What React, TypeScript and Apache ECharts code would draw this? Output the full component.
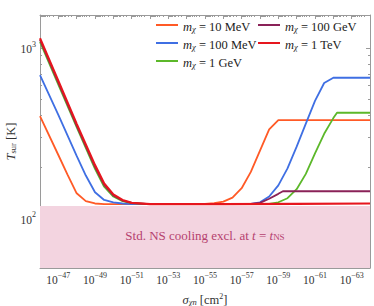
import React, { useEffect, useRef } from "react";
import * as echarts from "echarts";

// ---- Data: log10(sigma_chi n / cm^2) exponents and surface temperatures (K) ----
const sig10MeV = [-46, -47, -47.5, -48, -48.5, -49, -49.5, -52, -55, -55.5, -56, -56.5, -57, -57.5, -58, -58.5, -59, -64];
const T10MeV = [398, 235, 180, 140, 126, 122, 121, 121, 121.5, 122.5, 125, 132, 150, 187, 249, 332, 377, 377];

const sig100MeV = [-46, -47, -48, -48.5, -49, -49.5, -50, -50.5, -51, -55, -57.5, -58, -58.5, -59, -59.5, -60, -60.5, -61, -61.5, -62, -64];
const T100MeV = [693, 404, 232, 178, 142, 128, 124, 122, 121, 121, 121.5, 124, 134, 156, 196, 263, 359, 489, 622, 668, 668];

const sig1GeV = [-46, -47, -48, -49, -49.5, -50, -50.5, -51, -52, -56, -58.5, -59, -59.5, -60, -60.5, -61, -61.5, -62, -62.2, -64];
const T1GeV = [1085, 608, 342, 195, 153, 134, 126, 122.5, 121, 121, 121.5, 124, 131, 148, 182, 240, 313, 387, 416, 416];

const sig100GeV = [-46, -47, -48, -49, -49.5, -50, -50.5, -51, -52, -56, -57.5, -58, -58.5, -59, -59.25, -64];
const T100GeV = [1115, 625, 350, 200, 157, 136, 127, 123, 121, 121, 121.5, 123, 130, 139, 144, 144];

const sig1TeV = [-46, -47, -48, -49, -49.5, -50, -50.5, -51, -52, -56, -60, -64];
const T1TeV = [1140, 640, 358, 205, 160, 138, 128, 123, 121, 121, 121.5, 122];

const massLabels = ["10 MeV", "100 MeV", "1 GeV", "100 GeV", "1 TeV"];
const massColors = ["#ff5a26", "#3f6fe3", "#5cb82a", "#8a2258", "#e6161e"];

const xExtent = [-64, -46];
const yExtentK = [51, 1560];
const exclusionTopK = 118;

const xLabelExps = [-47, -49, -51, -53, -55, -57, -59, -61, -63];
const yLabelExps = [2, 3];

const SERIF = "'Liberation Serif', 'DejaVu Serif', serif";

export default function App() {
  const ref = useRef<HTMLDivElement>(null);

  useEffect(() => {
    if (!ref.current) return;
    const chart = echarts.init(ref.current, undefined, { renderer: "svg" });

    const lg = Math.log10;
    const yMin = lg(yExtentK[0]);
    const yMax = lg(yExtentK[1]);

    // tick positions (log decades + log minor ticks)
    const xMajor: number[] = [];
    const xMinor: number[] = [];
    for (let n = xExtent[0]; n <= xExtent[1]; n++) {
      xMajor.push(n);
      if (n < xExtent[1]) for (let k = 2; k <= 9; k++) xMinor.push(n + lg(k));
    }
    const yMajor: number[] = [];
    const yMinor: number[] = [];
    for (let n = 1; n <= 3; n++) {
      const p = Math.pow(10, n);
      if (lg(p) >= yMin && lg(p) <= yMax) yMajor.push(n);
      for (let k = 2; k <= 9; k++) {
        const v = lg(k * p);
        if (v > yMin && v < yMax) yMinor.push(v);
      }
    }

    const axisColor = "#9a9a9a";
    const labelRich = {
      b: { fontFamily: SERIF, fontSize: 11.5, color: "#333", lineHeight: 15, verticalAlign: "bottom" },
      s: { fontFamily: SERIF, fontSize: 8, color: "#333", lineHeight: 8, verticalAlign: "top" },
    };

    const baseX = (extra: any) => ({
      type: "value",
      min: xExtent[0],
      max: xExtent[1],
      inverse: true,
      gridIndex: 0,
      splitLine: { show: false },
      axisLine: { show: false, onZero: false },
      axisLabel: { show: false },
      ...extra,
    });
    const baseY = (extra: any) => ({
      type: "value",
      min: yMin,
      max: yMax,
      gridIndex: 0,
      splitLine: { show: false },
      axisLine: { show: false, onZero: false },
      axisLabel: { show: false },
      ...extra,
    });

    const seriesDefs = [
      { sig: sig10MeV, T: T10MeV },
      { sig: sig100MeV, T: T100MeV },
      { sig: sig1GeV, T: T1GeV },
      { sig: sig100GeV, T: T100GeV },
      { sig: sig1TeV, T: T1TeV },
    ];

    const legendRich = {
      i: { fontFamily: SERIF, fontSize: 12.5, fontStyle: "italic", color: "#222", lineHeight: 16, verticalAlign: "bottom" },
      sub: { fontFamily: SERIF, fontSize: 8.5, fontStyle: "italic", color: "#222", lineHeight: 9, verticalAlign: "bottom" },
      r: { fontFamily: SERIF, fontSize: 12.5, color: "#222", lineHeight: 16, verticalAlign: "bottom" },
    };
    const legendFmt = (name: string) => `{i|m}{sub|χ}{r| = ${name}}`;
    const legendBase = {
      orient: "vertical",
      top: 20,
      padding: 0,
      itemGap: 5,
      itemWidth: 22,
      itemHeight: 2,
      icon: "rect",
      itemStyle: { borderWidth: 0 },
      formatter: legendFmt,
      textStyle: { fontFamily: SERIF, fontSize: 12.5, color: "#222", rich: legendRich },
      selectedMode: false,
    };

    const option: any = {
      animation: false,
      backgroundColor: "#ffffff",
      grid: { left: 40, right: 4, top: 15, bottom: 38, containLabel: false, outerBoundsMode: "none" },
      legend: [
        { ...legendBase, left: 156, data: massLabels.slice(0, 3) },
        { ...legendBase, left: 258, data: massLabels.slice(3) },
      ],
      xAxis: [
        baseX({
          position: "bottom",
          axisLine: { show: true, onZero: false, lineStyle: { color: axisColor, width: 1 } },
          axisTick: { show: true, inside: true, length: 4, customValues: xMajor, lineStyle: { color: axisColor } },
          axisLabel: {
            show: true,
            customValues: xLabelExps,
            margin: 3,
            formatter: (v: number) => `{b|10}{s|−${Math.abs(Math.round(v))}}`,
            rich: labelRich,
          },
          name: "{i|σ}{sub|χn}{r| [cm}{sup|2}{r|]}",
          nameLocation: "middle",
          nameGap: 24,
          nameMoveOverlap: false,
          nameTextStyle: {
            rich: {
              i: { fontFamily: SERIF, fontSize: 12.5, fontStyle: "italic", color: "#333", lineHeight: 14, verticalAlign: "bottom" },
              sub: { fontFamily: SERIF, fontSize: 8.5, fontStyle: "italic", color: "#333", lineHeight: 8, verticalAlign: "bottom" },
              r: { fontFamily: SERIF, fontSize: 12.5, color: "#333", lineHeight: 14, verticalAlign: "bottom" },
              sup: { fontFamily: SERIF, fontSize: 8, color: "#333", lineHeight: 8, verticalAlign: "top" },
            },
          },
        }),
        baseX({
          position: "bottom",
          axisTick: { show: true, inside: true, length: 2, customValues: xMinor, lineStyle: { color: axisColor } },
        }),
        baseX({
          position: "top",
          axisLine: { show: true, onZero: false, lineStyle: { color: axisColor, width: 1 } },
          axisTick: { show: true, inside: true, length: 4, customValues: xMajor, lineStyle: { color: axisColor } },
        }),
        baseX({
          position: "top",
          axisTick: { show: true, inside: true, length: 2, customValues: xMinor, lineStyle: { color: axisColor } },
        }),
      ],
      yAxis: [
        baseY({
          position: "left",
          axisLine: { show: true, onZero: false, lineStyle: { color: axisColor, width: 1 } },
          axisTick: { show: true, inside: true, length: 4, customValues: yMajor, lineStyle: { color: axisColor } },
          axisLabel: {
            show: true,
            customValues: yLabelExps,
            margin: 4,
            formatter: (v: number) => `{b|10}{s|${Math.round(v)}}`,
            rich: labelRich,
          },
          name: "{i|T}{sub|sur}{r| [K]}",
          nameLocation: "middle",
          nameRotate: 90,
          nameGap: 23,
          nameMoveOverlap: false,
          nameTextStyle: {
            rich: {
              i: { fontFamily: SERIF, fontSize: 12.5, fontStyle: "italic", color: "#333", lineHeight: 14, verticalAlign: "bottom" },
              sub: { fontFamily: SERIF, fontSize: 8.5, color: "#333", lineHeight: 8, verticalAlign: "bottom" },
              r: { fontFamily: SERIF, fontSize: 12.5, color: "#333", lineHeight: 14, verticalAlign: "bottom" },
            },
          },
        }),
        baseY({
          position: "left",
          axisTick: { show: true, inside: true, length: 2, customValues: yMinor, lineStyle: { color: axisColor } },
        }),
        baseY({
          position: "right",
          axisLine: { show: true, onZero: false, lineStyle: { color: axisColor, width: 1 } },
          axisTick: { show: true, inside: true, length: 4, customValues: yMajor, lineStyle: { color: axisColor } },
        }),
        baseY({
          position: "right",
          axisTick: { show: true, inside: true, length: 2, customValues: yMinor, lineStyle: { color: axisColor } },
        }),
      ],
      series: [
        {
          type: "line",
          name: "exclusion",
          data: [],
          xAxisIndex: 0,
          yAxisIndex: 0,
          z: 1,
          silent: true,
          markArea: {
            silent: true,
            itemStyle: { color: "#f3d4e0", opacity: 1 },
            label: {
              show: true,
              position: "inside",
              offset: [0, -3],
              formatter: "{r|Std. NS cooling excl. at }{i|t}{r| = }{i|t}{sub|NS}",
              rich: {
                r: { fontFamily: SERIF, fontSize: 13, color: "#b5416f", lineHeight: 16, verticalAlign: "bottom" },
                i: { fontFamily: SERIF, fontSize: 13, fontStyle: "italic", color: "#b5416f", lineHeight: 16, verticalAlign: "bottom" },
                sub: { fontFamily: SERIF, fontSize: 9, color: "#b5416f", lineHeight: 9, verticalAlign: "bottom" },
              },
            },
            data: [[
              { xAxis: xExtent[0], yAxis: yMin },
              { xAxis: xExtent[1], yAxis: lg(exclusionTopK) },
            ]],
          },
        },
        ...seriesDefs.map((d, i) => ({
          type: "line",
          name: massLabels[i],
          xAxisIndex: 0,
          yAxisIndex: 0,
          z: 3 + i,
          symbol: "none",
          showSymbol: false,
          smooth: false,
          clip: true,
          data: d.sig.map((s, j) => [s, lg(d.T[j])]),
          lineStyle: { color: massColors[i], width: i === 4 ? 2.2 : 1.8 },
          itemStyle: { color: massColors[i] },
        })),
      ],
    };

    chart.setOption(option);
    return () => chart.dispose();
  }, []);

  return (
    <div
      ref={ref}
      style={{ position: "fixed", left: 0, top: 0, width: 374, height: 306, background: "#fff" }}
    />
  );
}
